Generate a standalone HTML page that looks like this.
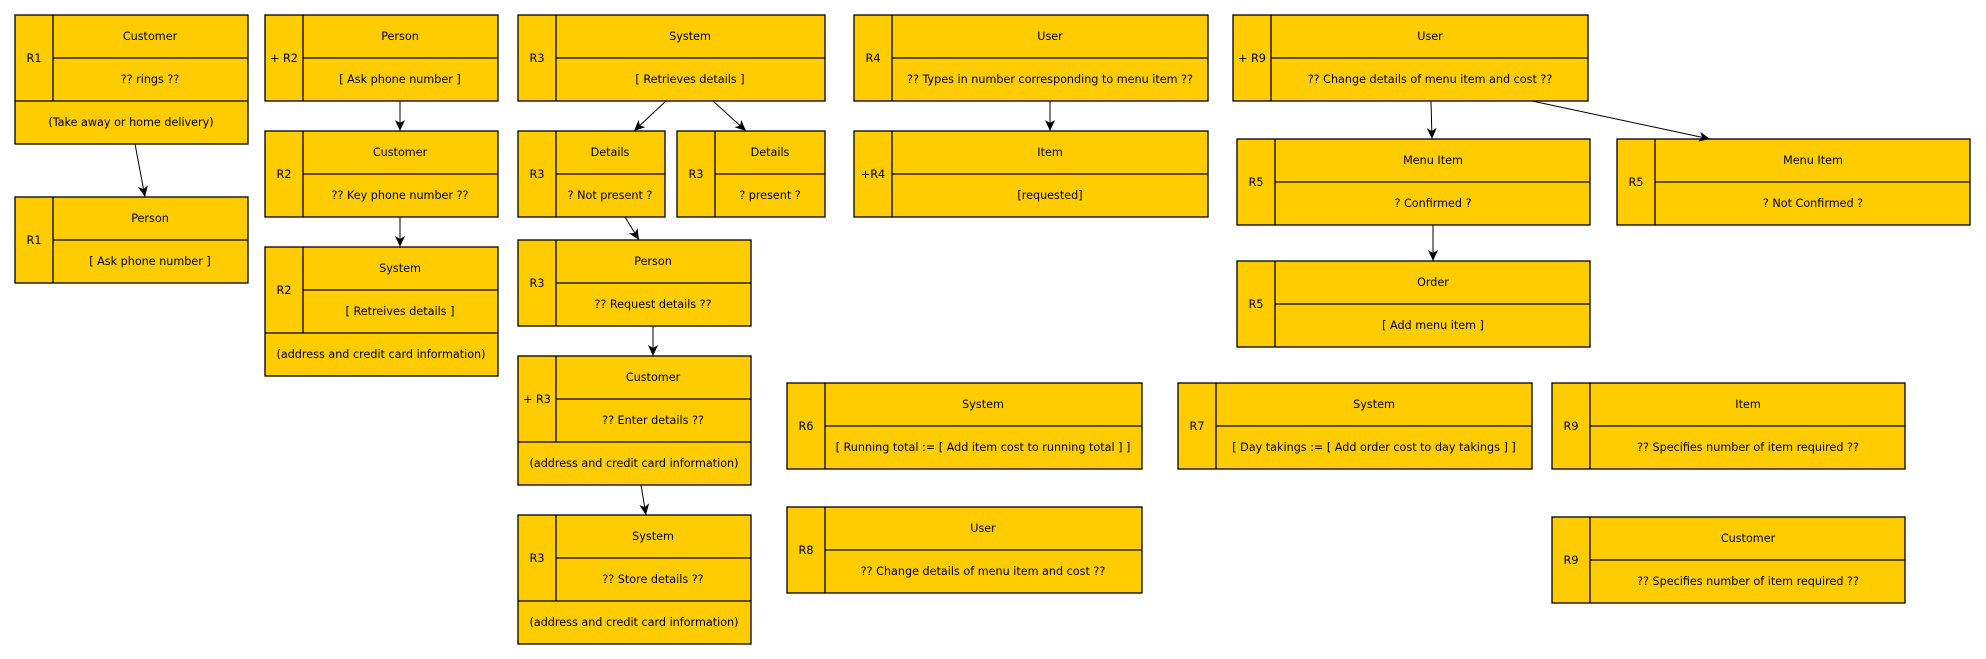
<!DOCTYPE html>
<html><head><meta charset="utf-8"><style>
html,body{margin:0;padding:0;background:#fff;width:1986px;height:659px;overflow:hidden}
svg{display:block}
rect{fill:#FFCC00;stroke:#000;stroke-width:1.3}
line.s{stroke:#000;stroke-width:1.3}
text{font-family:"DejaVu Sans","Liberation Sans",sans-serif;font-size:11.2px;fill:#000;text-anchor:middle;dominant-baseline:middle}
path.a{stroke:#000;stroke-width:1;fill:none}
</style></head><body>
<svg width="1986" height="659" viewBox="0 0 1986 659" xmlns="http://www.w3.org/2000/svg">
<defs><marker id="m" markerWidth="12" markerHeight="10" refX="11" refY="5" orient="auto" markerUnits="userSpaceOnUse"><path d="M0,0 L11,5 L0,10 L3,5 z" fill="#000"/></marker></defs>

<!-- 1 -->
<rect x="15" y="15" width="233" height="129"/><line class="s" x1="53" y1="15" x2="53" y2="101"/><line class="s" x1="53" y1="58" x2="248" y2="58"/><line class="s" x1="15" y1="101" x2="248" y2="101"/>
<text x="34" y="59">R1</text><text x="150" y="37">Customer</text><text x="150" y="80">?? rings ??</text><text x="131" y="123">(Take away or home delivery)</text>
<!-- 2 -->
<rect x="15" y="197" width="233" height="86"/><line class="s" x1="53" y1="197" x2="53" y2="283"/><line class="s" x1="53" y1="240" x2="248" y2="240"/>
<text x="34" y="241">R1</text><text x="150" y="219">Person</text><text x="150" y="262">[ Ask phone number ]</text>
<!-- 3 -->
<rect x="265" y="15" width="233" height="86"/><line class="s" x1="303" y1="15" x2="303" y2="101"/><line class="s" x1="303" y1="58" x2="498" y2="58"/>
<text x="284" y="59">+ R2</text><text x="400" y="37">Person</text><text x="400" y="80">[ Ask phone number ]</text>
<!-- 4 -->
<rect x="265" y="131" width="233" height="86"/><line class="s" x1="303" y1="131" x2="303" y2="217"/><line class="s" x1="303" y1="174" x2="498" y2="174"/>
<text x="284" y="175">R2</text><text x="400" y="153">Customer</text><text x="400" y="196">?? Key phone number ??</text>
<!-- 5 -->
<rect x="265" y="247" width="233" height="129"/><line class="s" x1="303" y1="247" x2="303" y2="333"/><line class="s" x1="303" y1="290" x2="498" y2="290"/><line class="s" x1="265" y1="333" x2="498" y2="333"/>
<text x="284" y="291">R2</text><text x="400" y="269">System</text><text x="400" y="312">[ Retreives details ]</text><text x="381" y="355">(address and credit card information)</text>
<!-- 6 -->
<rect x="518" y="15" width="307" height="86"/><line class="s" x1="556" y1="15" x2="556" y2="101"/><line class="s" x1="556" y1="58" x2="825" y2="58"/>
<text x="537" y="59">R3</text><text x="690" y="37">System</text><text x="690" y="80">[ Retrieves details ]</text>
<!-- 7 -->
<rect x="518" y="131" width="147" height="86"/><line class="s" x1="556" y1="131" x2="556" y2="217"/><line class="s" x1="556" y1="174" x2="665" y2="174"/>
<text x="537" y="175">R3</text><text x="610" y="153">Details</text><text x="610" y="196">? Not present ?</text>
<!-- 8 -->
<rect x="677" y="131" width="148" height="86"/><line class="s" x1="715" y1="131" x2="715" y2="217"/><line class="s" x1="715" y1="174" x2="825" y2="174"/>
<text x="696" y="175">R3</text><text x="770" y="153">Details</text><text x="770" y="196">? present ?</text>
<!-- 9 -->
<rect x="518" y="240" width="233" height="86"/><line class="s" x1="556" y1="240" x2="556" y2="326"/><line class="s" x1="556" y1="283" x2="751" y2="283"/>
<text x="537" y="284">R3</text><text x="653" y="262">Person</text><text x="653" y="305">?? Request details ??</text>
<!-- 10 -->
<rect x="518" y="356" width="233" height="129"/><line class="s" x1="556" y1="356" x2="556" y2="442"/><line class="s" x1="556" y1="399" x2="751" y2="399"/><line class="s" x1="518" y1="442" x2="751" y2="442"/>
<text x="537" y="400">+ R3</text><text x="653" y="378">Customer</text><text x="653" y="421">?? Enter details ??</text><text x="634" y="464">(address and credit card information)</text>
<!-- 11 -->
<rect x="518" y="515" width="233" height="129"/><line class="s" x1="556" y1="515" x2="556" y2="601"/><line class="s" x1="556" y1="558" x2="751" y2="558"/><line class="s" x1="518" y1="601" x2="751" y2="601"/>
<text x="537" y="559">R3</text><text x="653" y="537">System</text><text x="653" y="580">?? Store details ??</text><text x="634" y="623">(address and credit card information)</text>
<!-- 12 -->
<rect x="854" y="15" width="354" height="86"/><line class="s" x1="892" y1="15" x2="892" y2="101"/><line class="s" x1="892" y1="58" x2="1208" y2="58"/>
<text x="873" y="59">R4</text><text x="1050" y="37">User</text><text x="1050" y="80">?? Types in number corresponding to menu item ??</text>
<!-- 13 -->
<rect x="854" y="131" width="354" height="86"/><line class="s" x1="892" y1="131" x2="892" y2="217"/><line class="s" x1="892" y1="174" x2="1208" y2="174"/>
<text x="873" y="175">+R4</text><text x="1050" y="153">Item</text><text x="1050" y="196">[requested]</text>
<!-- 14 -->
<rect x="1233" y="15" width="355" height="86"/><line class="s" x1="1271" y1="15" x2="1271" y2="101"/><line class="s" x1="1271" y1="58" x2="1588" y2="58"/>
<text x="1252" y="59">+ R9</text><text x="1430" y="37">User</text><text x="1430" y="80">?? Change details of menu item and cost ??</text>
<!-- 15 -->
<rect x="1237" y="139" width="353" height="86"/><line class="s" x1="1275" y1="139" x2="1275" y2="225"/><line class="s" x1="1275" y1="182" x2="1590" y2="182"/>
<text x="1256" y="183">R5</text><text x="1433" y="161">Menu Item</text><text x="1433" y="204">? Confirmed ?</text>
<!-- 16 -->
<rect x="1617" y="139" width="353" height="86"/><line class="s" x1="1655" y1="139" x2="1655" y2="225"/><line class="s" x1="1655" y1="182" x2="1970" y2="182"/>
<text x="1636" y="183">R5</text><text x="1813" y="161">Menu Item</text><text x="1813" y="204">? Not Confirmed ?</text>
<!-- 17 -->
<rect x="1237" y="261" width="353" height="86"/><line class="s" x1="1275" y1="261" x2="1275" y2="347"/><line class="s" x1="1275" y1="304" x2="1590" y2="304"/>
<text x="1256" y="305">R5</text><text x="1433" y="283">Order</text><text x="1433" y="326">[ Add menu item ]</text>
<!-- 18 -->
<rect x="787" y="383" width="355" height="86"/><line class="s" x1="825" y1="383" x2="825" y2="469"/><line class="s" x1="825" y1="426" x2="1142" y2="426"/>
<text x="806" y="427">R6</text><text x="983" y="405">System</text><text x="983" y="448">[ Running total := [ Add item cost to running total ] ]</text>
<!-- 19 -->
<rect x="787" y="507" width="355" height="86"/><line class="s" x1="825" y1="507" x2="825" y2="593"/><line class="s" x1="825" y1="550" x2="1142" y2="550"/>
<text x="806" y="551">R8</text><text x="983" y="529">User</text><text x="983" y="572">?? Change details of menu item and cost ??</text>
<!-- 20 -->
<rect x="1178" y="383" width="354" height="86"/><line class="s" x1="1216" y1="383" x2="1216" y2="469"/><line class="s" x1="1216" y1="426" x2="1532" y2="426"/>
<text x="1197" y="427">R7</text><text x="1374" y="405">System</text><text x="1374" y="448">[ Day takings := [ Add order cost to day takings ] ]</text>
<!-- 21 -->
<rect x="1552" y="383" width="353" height="86"/><line class="s" x1="1590" y1="383" x2="1590" y2="469"/><line class="s" x1="1590" y1="426" x2="1905" y2="426"/>
<text x="1571" y="427">R9</text><text x="1748" y="405">Item</text><text x="1748" y="448">?? Specifies number of item required ??</text>
<!-- 22 -->
<rect x="1552" y="517" width="353" height="86"/><line class="s" x1="1590" y1="517" x2="1590" y2="603"/><line class="s" x1="1590" y1="560" x2="1905" y2="560"/>
<text x="1571" y="561">R9</text><text x="1748" y="539">Customer</text><text x="1748" y="582">?? Specifies number of item required ??</text>

<!-- arrows -->
<path class="a" marker-end="url(#m)" d="M135,144 L145,197"/>
<path class="a" marker-end="url(#m)" d="M400,101 L400,131"/>
<path class="a" marker-end="url(#m)" d="M400,217 L400,247"/>
<path class="a" marker-end="url(#m)" d="M666,101 L634,131"/>
<path class="a" marker-end="url(#m)" d="M713,101 L746,131"/>
<path class="a" marker-end="url(#m)" d="M625,217 L639,240"/>
<path class="a" marker-end="url(#m)" d="M653,326 L653,356"/>
<path class="a" marker-end="url(#m)" d="M641,485 L646,515"/>
<path class="a" marker-end="url(#m)" d="M1050,101 L1050,131"/>
<path class="a" marker-end="url(#m)" d="M1431,101 L1432,139"/>
<path class="a" marker-end="url(#m)" d="M1532,101 L1710,139"/>
<path class="a" marker-end="url(#m)" d="M1433,225 L1433,261"/>
</svg>
</body></html>
